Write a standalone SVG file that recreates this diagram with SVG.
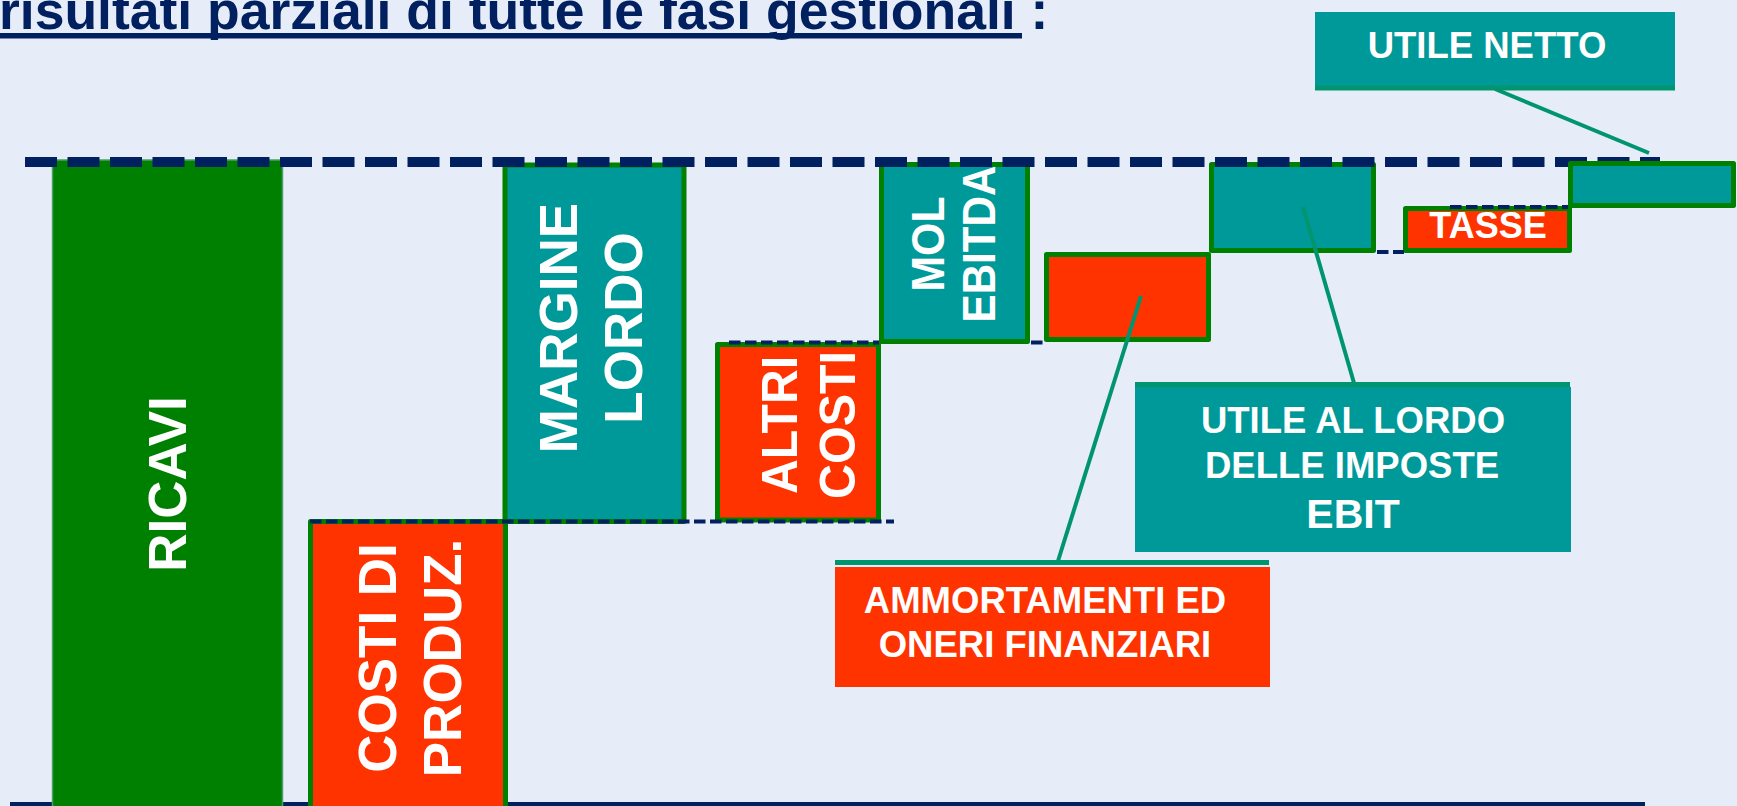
<svg xmlns="http://www.w3.org/2000/svg" width="1737" height="806" viewBox="0 0 1737 806">
<defs>
<style>
.bg{fill:#E7EDF8}
.box{stroke:#008000;stroke-width:5;stroke-linejoin:round}
.teal{fill:#009999}
.red{fill:#FF3300}
.lbl{font-family:"Liberation Sans",Arial,sans-serif;font-weight:bold;fill:#FFFFFF}
.guide{stroke:#002060;fill:none}
.big{stroke-width:10;stroke-dasharray:32 10.5}
.small{stroke-width:4;stroke-dasharray:11.5 4.5}
.call{stroke:#00956F;stroke-width:4;fill:none}
.bar{stroke:#00956F;stroke-width:5}
</style>
</defs>
<rect class="bg" x="0" y="0" width="1737" height="806"/>

<g id="title">
<text x="-1" y="28.5" font-family="'Liberation Sans',Arial,sans-serif" font-weight="bold" font-size="53.5" fill="#002060">risultati parziali di tutte le fasi gestionali :</text>
<rect x="0" y="33" width="1022" height="5.5" fill="#002060"/>
</g>

<g id="baseline">
<rect x="10" y="802" width="1635" height="4" fill="#002060"/>
</g>

<g id="ricavi">
<rect x="52.5" y="160" width="230" height="660" fill="#008000" stroke="#4C9F6A" stroke-width="1.5"/>
<text class="lbl" font-size="53" text-anchor="middle" transform="translate(167,484) rotate(-90)" x="0" y="19">RICAVI</text>
</g>

<g id="costi-produz">
<rect class="box red" x="310.5" y="521.5" width="195" height="300"/>
<text class="lbl" font-size="53" text-anchor="middle" transform="translate(377,658) rotate(-90)" x="0" y="19">COSTI DI</text>
<text class="lbl" font-size="53" text-anchor="middle" transform="translate(442,658) rotate(-90)" x="0" y="19">PRODUZ.</text>
</g>

<g id="margine-lordo">
<rect class="box teal" x="505" y="165" width="179" height="356.5"/>
<text class="lbl" font-size="53" text-anchor="middle" transform="translate(558,328) rotate(-90)" x="0" y="19">MARGINE</text>
<text class="lbl" font-size="53" text-anchor="middle" transform="translate(623,328) rotate(-90)" x="0" y="19">LORDO</text>
</g>

<g id="altri-costi">
<rect class="box red" x="717.5" y="344.5" width="161" height="175.5"/>
<text class="lbl" font-size="50" text-anchor="middle" transform="translate(779,425) rotate(-90)" x="0" y="18" textLength="138" lengthAdjust="spacingAndGlyphs">ALTRI</text>
<text class="lbl" font-size="50" text-anchor="middle" transform="translate(837,425) rotate(-90)" x="0" y="18" textLength="148" lengthAdjust="spacingAndGlyphs">COSTI</text>
</g>

<g id="mol-ebitda">
<rect class="box teal" x="881.5" y="164.5" width="146" height="177"/>
<text class="lbl" font-size="46" text-anchor="middle" transform="translate(927,244) rotate(-90)" x="0" y="16.5" textLength="95" lengthAdjust="spacingAndGlyphs">MOL</text>
<text class="lbl" font-size="46" text-anchor="middle" transform="translate(978,244) rotate(-90)" x="0" y="16.5" textLength="157" lengthAdjust="spacingAndGlyphs">EBITDA</text>
</g>

<g id="ammortamenti-bar">
<rect class="box red" x="1046.5" y="254.5" width="162" height="85"/>
</g>

<g id="ebit-bar">
<rect class="box teal" x="1211.5" y="164.5" width="162" height="86"/>
</g>

<g id="tasse">
<rect class="box red" x="1405.5" y="208.5" width="164" height="42"/>
<text class="lbl" font-size="36" text-anchor="middle" x="1488" y="238">TASSE</text>
</g>

<g id="guides">
<line class="guide big" x1="25" y1="162" x2="1660" y2="162"/>
<line class="guide small" x1="310" y1="521.5" x2="894" y2="521.5"/>
<line class="guide small" x1="729" y1="342.5" x2="879" y2="342.5"/>
<line class="guide small" x1="1031" y1="342.5" x2="1046" y2="342.5"/>
<line class="guide small" x1="1377" y1="252" x2="1404" y2="252"/>
<line class="guide small" x1="1450" y1="207" x2="1568" y2="207"/>
</g>

<g id="utile-netto-bar">
<rect class="box teal" x="1570.5" y="163.5" width="163" height="42"/>
</g>

<g id="connectors">
<line class="call" x1="1495" y1="89" x2="1649" y2="153"/>
<line class="call" x1="1303" y1="207" x2="1354" y2="383"/>
<line class="call" x1="1141" y1="296" x2="1058" y2="561"/>
</g>

<g id="label-utile-netto">
<rect class="teal" x="1315" y="12" width="360" height="75"/>
<line class="bar" x1="1315" y1="88" x2="1675" y2="88"/>
<text class="lbl" font-size="36.5" text-anchor="middle" x="1487" y="58">UTILE NETTO</text>
</g>

<g id="label-ebit">
<line class="bar" x1="1135" y1="384.5" x2="1570" y2="384.5"/>
<rect class="teal" x="1135" y="387" width="436" height="165"/>
<text class="lbl" font-size="36.5" text-anchor="middle" x="1353" y="433">UTILE AL LORDO</text>
<text class="lbl" font-size="36.5" text-anchor="middle" x="1352" y="478">DELLE IMPOSTE</text>
<text class="lbl" font-size="41" text-anchor="middle" x="1353" y="528">EBIT</text>
</g>

<g id="label-ammortamenti">
<line class="bar" x1="835" y1="562.5" x2="1269" y2="562.5"/>
<rect class="red" x="835" y="567" width="435" height="120"/>
<text class="lbl" font-size="36.5" text-anchor="middle" x="1045" y="613">AMMORTAMENTI ED</text>
<text class="lbl" font-size="36.5" text-anchor="middle" x="1045" y="657">ONERI FINANZIARI</text>
</g>
</svg>
